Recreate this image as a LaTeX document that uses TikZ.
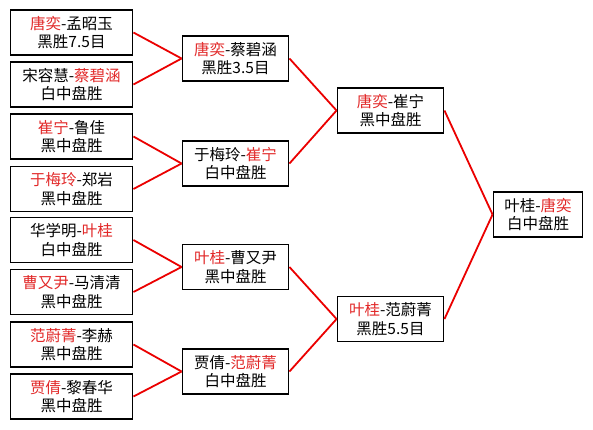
\documentclass[tikz,border=0pt]{standalone}
\usepackage{fontspec}
\newfontfamily\cjk{Noto Sans CJK SC}
\usetikzlibrary{positioning}
\definecolor{winred}{RGB}{226,40,40}
\definecolor{linkred}{RGB}{235,0,0}
\newcommand{\winner}[1]{\textcolor{winred}{#1}}

\begin{document}
\begin{tikzpicture}[
        x=1pt, y=-1pt,
        game/.style={draw, rectangle, line width=1.9pt, minimum height=45pt, inner sep=0pt, align=center, fill=white, font=\cjk\fontsize{15.5}{18.5}\selectfont},
        first/.style={game, minimum width=122pt},
        second/.style={game, minimum width=106pt},
        final/.style={game, minimum width=89pt},
        link/.style={draw=linkred, line width=1.8pt}
        ]

        \useasboundingbox[fill=white] (0,0) rectangle (593,429);

        % Round 1
        \node[first] (m1) at (71.5, 32.5) {\winner{唐奕}-孟昭玉 \\ 黑胜7.5目};
        \node[first] (m2) at (71.5, 84.5) {宋容慧-\winner{蔡碧涵} \\ 白中盘胜};
        \node[first] (m3) at (71.5, 136.5) {\winner{崔宁}-鲁佳 \\ 黑中盘胜};
        \node[first] (m4) at (71.5, 189) {\winner{于梅玲}-郑岩 \\ 黑中盘胜};
        \node[first] (m5) at (71.5, 240) {华学明-\winner{叶桂} \\ 白中盘胜};
        \node[first] (m6) at (71.5, 292) {\winner{曹又尹}-马清清 \\ 黑中盘胜};
        \node[first] (m7) at (71.5, 344.5) {\winner{范蔚菁}-李赫 \\ 黑中盘胜};
        \node[first] (m8) at (71.5, 396.5) {\winner{贾倩}-黎春华 \\ 黑中盘胜};

        % Round 2
        \node[second] (s1) at (235.5, 58.5) {\winner{唐奕}-蔡碧涵 \\ 黑胜3.5目};
        \node[second] (s2) at (235.5, 163.5) {于梅玲-\winner{崔宁} \\ 白中盘胜};
        \node[second] (s3) at (235.5, 267) {\winner{叶桂}-曹又尹 \\ 黑中盘胜};
        \node[second] (s4) at (235.5, 371.5) {贾倩-\winner{范蔚菁} \\ 白中盘胜};

        % Semifinals
        \node[second] (f1) at (390.5, 110.5) {\winner{唐奕}-崔宁 \\ 黑中盘胜};
        \node[second] (f2) at (390.5, 319) {\winner{叶桂}-范蔚菁 \\ 黑胜5.5目};

        % Final
        \node[final] (champ) at (538, 214.5) {叶桂-\winner{唐奕} \\ 白中盘胜};

        % Links
        \draw[link] (m1.east) -- (s1.west);
        \draw[link] (m2.east) -- (s1.west);
        \draw[link] (m3.east) -- (s2.west);
        \draw[link] (m4.east) -- (s2.west);
        \draw[link] (m5.east) -- (s3.west);
        \draw[link] (m6.east) -- (s3.west);
        \draw[link] (m7.east) -- (s4.west);
        \draw[link] (m8.east) -- (s4.west);

        \draw[link] (s1.east) -- (f1.west);
        \draw[link] (s2.east) -- (f1.west);
        \draw[link] (s3.east) -- (f2.west);
        \draw[link] (s4.east) -- (f2.west);

        \draw[link] (f1.east) -- (champ.west);
        \draw[link] (f2.east) -- (champ.west);

    \end{tikzpicture}
\end{document}
